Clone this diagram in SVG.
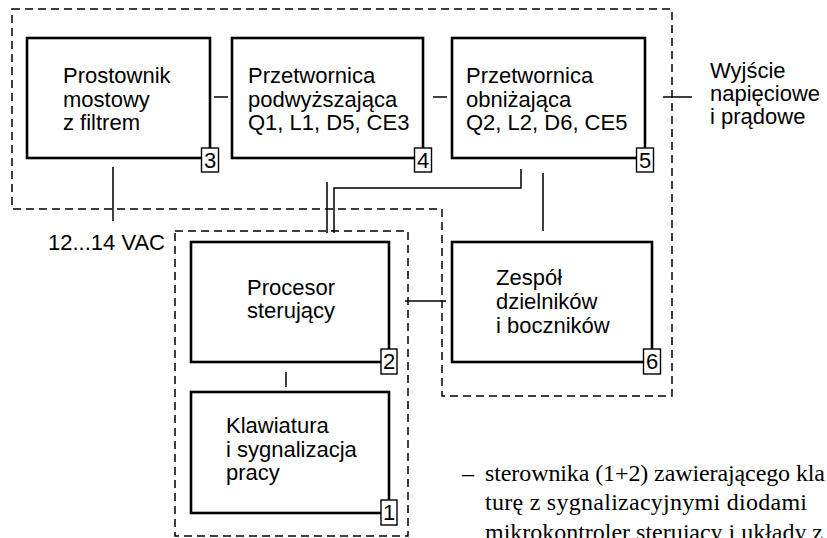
<svg xmlns="http://www.w3.org/2000/svg" width="827" height="538" viewBox="0 0 827 538">
<style>
.box{fill:none;stroke:#000;stroke-width:2.6}
.num{fill:#fff;stroke:#000;stroke-width:1.4}
.dash{fill:none;stroke:#000;stroke-width:1.5;stroke-dasharray:8 5}
.con{fill:none;stroke:#000;stroke-width:1.5}
.t{font-family:"Liberation Sans",Arial,sans-serif;font-size:22px;fill:#000}
.n{font-family:"Liberation Sans",Arial,sans-serif;font-size:22px;fill:#000;text-anchor:middle}
.s{font-family:"Liberation Serif","Times New Roman",serif;font-size:24px;fill:#000}
</style>
<rect width="827" height="538" fill="#fff"/>
<g id="regions">
<path class="dash" d="M12,9 H672 V396 H442 V209 H12 Z"/>
<rect class="dash" x="175" y="231" width="233" height="305"/>
</g>
<g id="connectors">
<line class="con" x1="214" y1="97" x2="228" y2="97"/>
<line class="con" x1="433" y1="97" x2="447" y2="97"/>
<line class="con" x1="663" y1="97" x2="692" y2="97"/>
<line class="con" x1="113" y1="167" x2="113" y2="221"/>
<line class="con" x1="327" y1="182" x2="327" y2="233"/>
<polyline class="con" points="521,169 521,188 334,188 334,233"/>
<line class="con" x1="543" y1="173" x2="543" y2="231"/>
<line class="con" x1="405" y1="301" x2="446" y2="301"/>
<line class="con" x1="286" y1="372" x2="286" y2="387"/>
</g>
<g id="node3">
<rect class="box" x="27" y="38" width="183" height="120"/>
<text class="t" x="63" y="83">Prostownik</text>
<text class="t" x="63" y="107">mostowy</text>
<text class="t" x="63" y="130">z filtrem</text>
<rect class="num" x="201.5" y="148" width="17" height="24"/>
<text class="n" x="210" y="168">3</text>
</g>
<g id="node4">
<rect class="box" x="232" y="38" width="191" height="120"/>
<text class="t" x="248" y="83">Przetwornica</text>
<text class="t" x="248" y="107">podwyższająca</text>
<text class="t" x="248" y="130">Q1, L1, D5, CE3</text>
<rect class="num" x="414.5" y="148" width="17" height="24"/>
<text class="n" x="423" y="168">4</text>
</g>
<g id="node5">
<rect class="box" x="452" y="38" width="193" height="120"/>
<text class="t" x="466" y="83">Przetwornica</text>
<text class="t" x="466" y="107">obniżająca</text>
<text class="t" x="466" y="130">Q2, L2, D6, CE5</text>
<rect class="num" x="636.5" y="148" width="17" height="24"/>
<text class="n" x="645" y="168">5</text>
</g>
<g id="output">
<text class="t" x="710" y="78">Wyjście</text>
<text class="t" x="710" y="101">napięciowe</text>
<text class="t" x="710" y="124">i prądowe</text>
</g>
<g id="input">
<text class="t" x="48" y="250">12...14 VAC</text>
</g>
<g id="node2">
<rect class="box" x="191" y="242" width="198" height="120"/>
<text class="t" x="247" y="295">Procesor</text>
<text class="t" x="247" y="318">sterujący</text>
<rect class="num" x="381" y="349" width="16" height="25"/>
<text class="n" x="389" y="369">2</text>
</g>
<g id="node1">
<rect class="box" x="191" y="392" width="198" height="121"/>
<text class="t" x="226" y="433">Klawiatura</text>
<text class="t" x="226" y="457">i sygnalizacja</text>
<text class="t" x="226" y="480">pracy</text>
<rect class="num" x="381" y="500" width="16" height="25"/>
<text class="n" x="389" y="520">1</text>
</g>
<g id="node6">
<rect class="box" x="452" y="242" width="200" height="120"/>
<text class="t" x="496" y="285">Zespół</text>
<text class="t" x="496" y="309">dzielników</text>
<text class="t" x="496" y="333">i boczników</text>
<rect class="num" x="643.5" y="349" width="17" height="25"/>
<text class="n" x="652" y="369">6</text>
</g>
<g id="caption">
<text class="s" x="462" y="481">–</text>
<text class="s" x="485" y="481" textLength="340" lengthAdjust="spacing">sterownika (1+2) zawierającego kla</text>
<text class="s" x="485" y="510" textLength="322" lengthAdjust="spacing">turę z sygnalizacyjnymi diodami</text>
<text class="s" x="485" y="540" textLength="338" lengthAdjust="spacing">mikrokontroler sterujący i układy z</text>
</g>
</svg>
